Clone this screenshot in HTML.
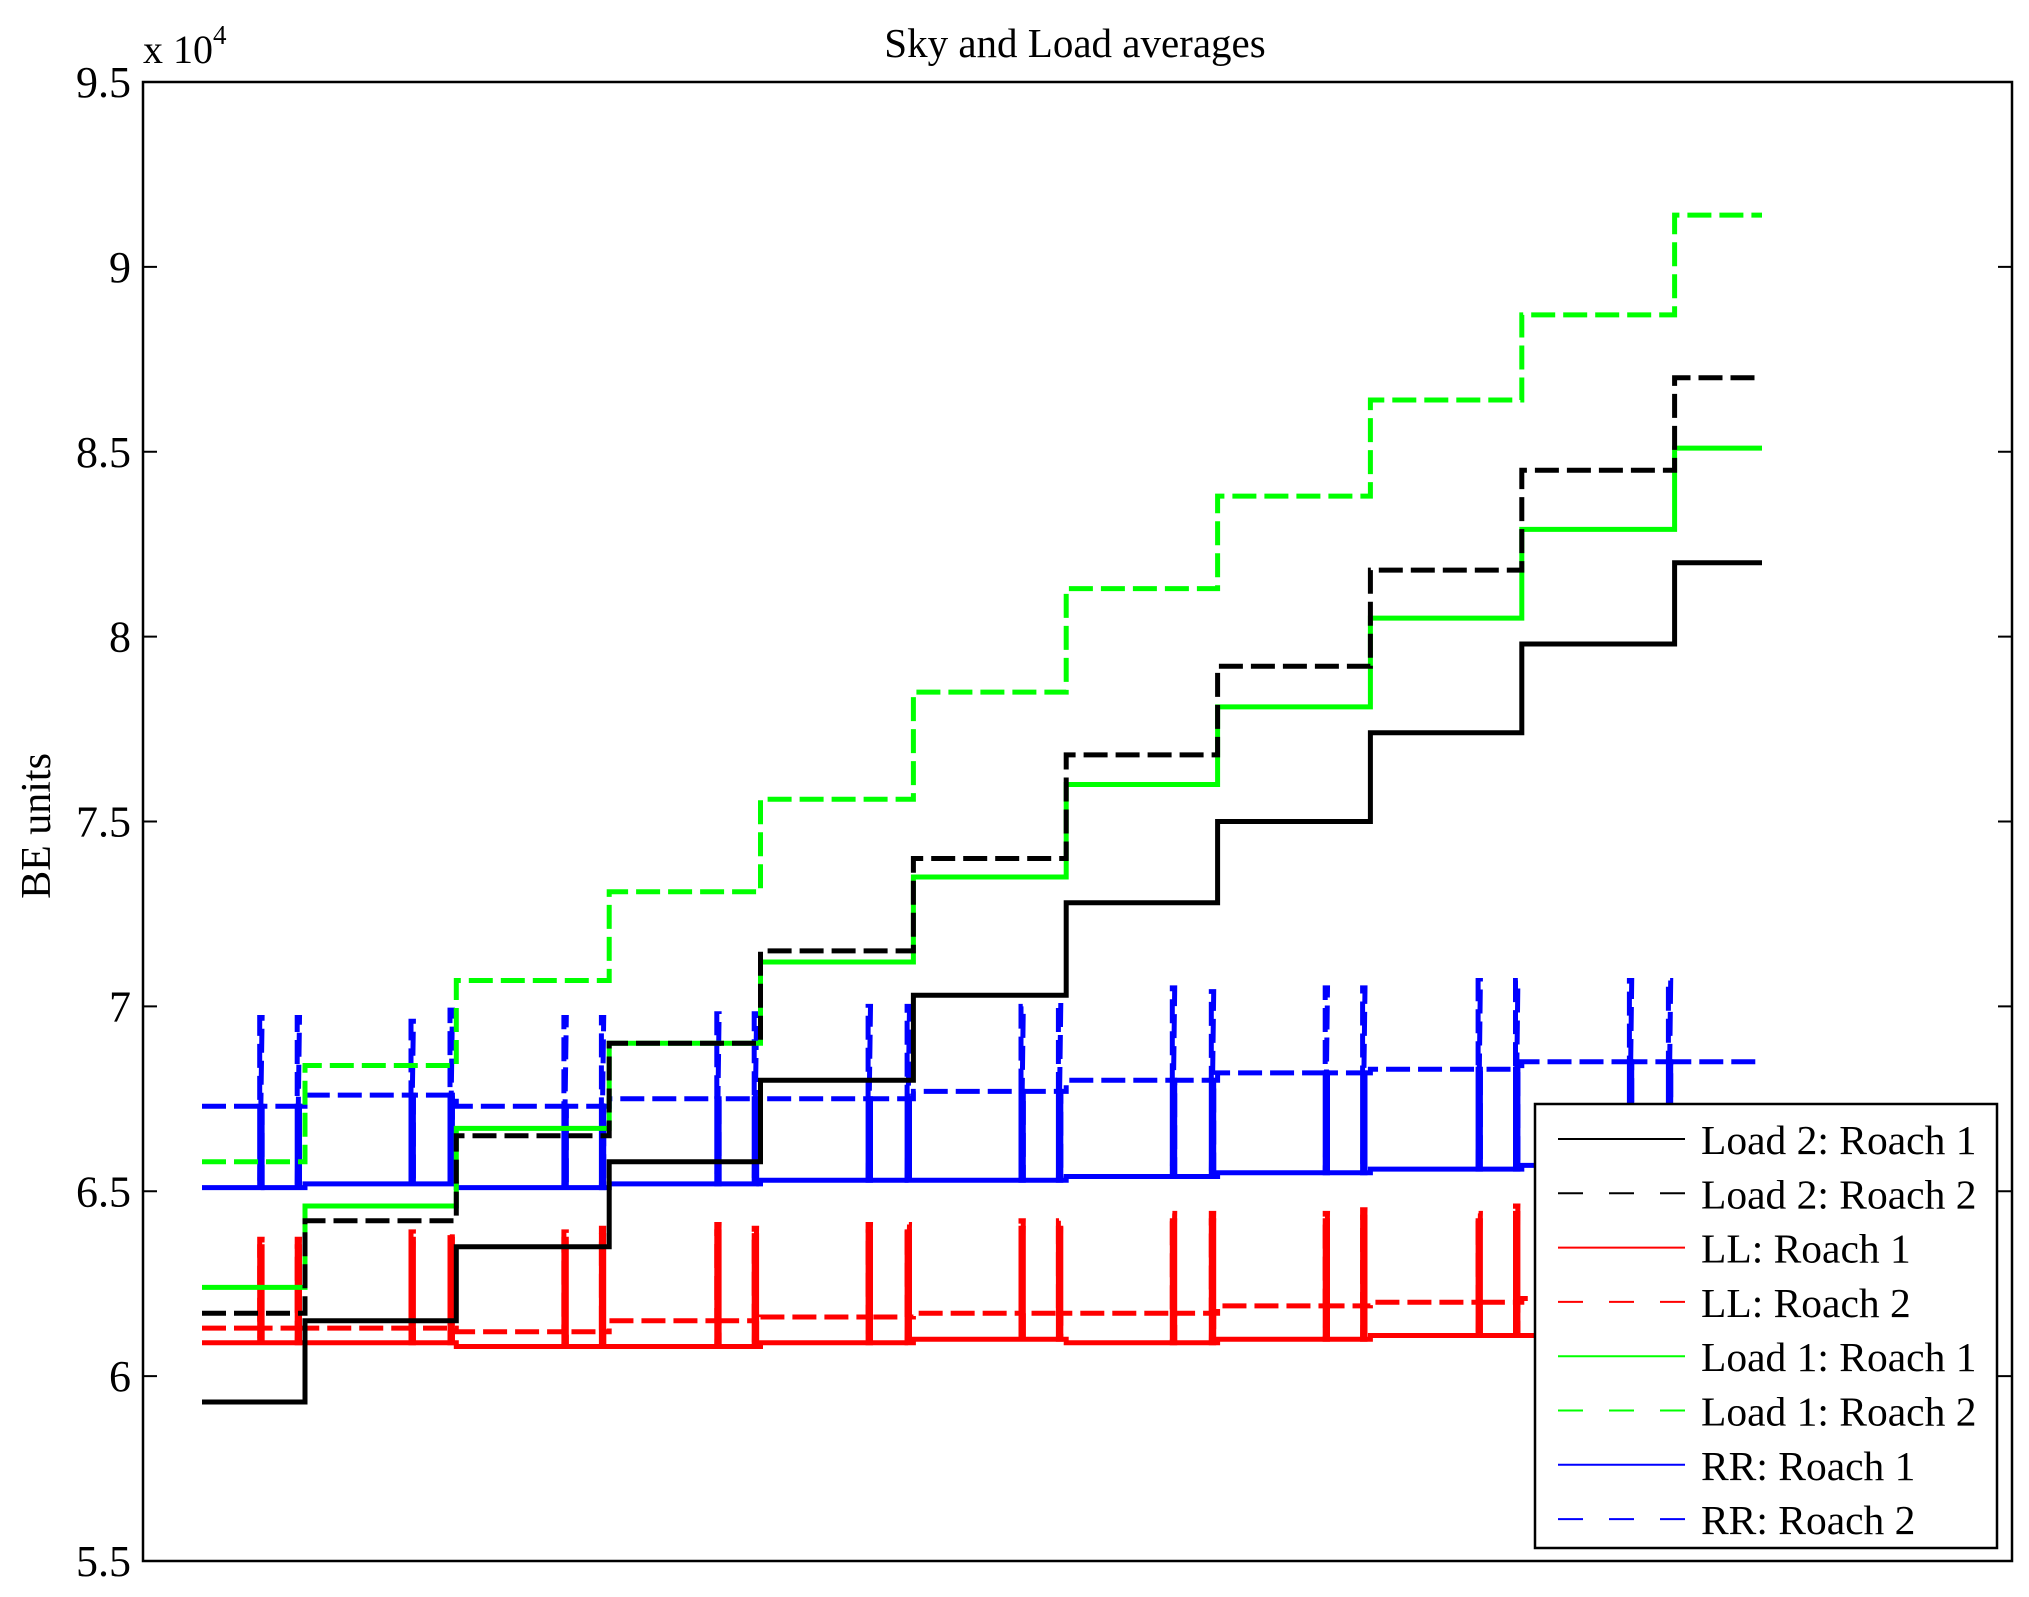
<!DOCTYPE html>
<html><head><meta charset="utf-8"><style>
html,body{margin:0;padding:0;background:#fff}
svg text{font-family:"Liberation Serif",serif;fill:#000}
</style></head><body>
<svg id="chart" width="2029" height="1592" viewBox="0 0 2029 1592" xmlns="http://www.w3.org/2000/svg">
<rect x="0" y="0" width="2029" height="1592" fill="#fff"/>
<text x="1075" y="57" font-size="41" text-anchor="middle">Sky and Load averages</text>
<text transform="translate(50,826) rotate(-90)" font-size="42" text-anchor="middle">BE units</text>
<text x="143" y="63" font-size="40">x 10<tspan font-size="27" dy="-19">4</tspan></text>
<g id="ticks"></g>
<g id="series"></g>
<rect x="143" y="82" width="1869" height="1479" fill="none" stroke="#000" stroke-width="2.5"/>
<g id="legend"></g>
</svg>
<script>
const yTicks = [5.5, 6, 6.5, 7, 7.5, 8, 8.5, 9, 9.5];
const yTickLabels = ["5.5", "6", "6.5", "7", "7.5", "8", "8.5", "9", "9.5"];
const segStarts = [0, 66, 163, 261, 358, 456, 554, 651, 749, 846, 944];
const tEnd = 1000;
const load2r1 = [5.93, 6.15, 6.35, 6.58, 6.80, 7.03, 7.28, 7.50, 7.74, 7.98, 8.20];
const load2r2 = [6.17, 6.42, 6.65, 6.90, 7.15, 7.40, 7.68, 7.92, 8.18, 8.45, 8.70];
const load1r1 = [6.24, 6.46, 6.67, 6.90, 7.12, 7.35, 7.60, 7.81, 8.05, 8.29, 8.51];
const load1r2 = [6.58, 6.84, 7.07, 7.31, 7.56, 7.85, 8.13, 8.38, 8.64, 8.87, 9.14];
const llr1 = [6.09, 6.09, 6.08, 6.08, 6.09, 6.10, 6.09, 6.10, 6.11, 6.11, 6.12];
const llr2 = [6.13, 6.13, 6.12, 6.15, 6.16, 6.17, 6.17, 6.19, 6.20, 6.21, 6.22];
const rrr1 = [6.51, 6.52, 6.51, 6.52, 6.53, 6.53, 6.54, 6.55, 6.56, 6.57, 6.58];
const rrr2 = [6.73, 6.76, 6.73, 6.75, 6.75, 6.77, 6.80, 6.82, 6.83, 6.85, 6.85];
const spikeT = [37, 61, 134, 159, 232, 256, 330, 354, 427, 452, 525, 549, 622, 647, 720, 744, 818, 842, 915, 940];
const redPeak = [6.37, 6.37, 6.39, 6.39, 6.39, 6.40, 6.41, 6.40, 6.41, 6.41, 6.42, 6.42, 6.44, 6.44, 6.44, 6.45, 6.44, 6.46, 6.45, 6.46];
const bluePeak = [6.97, 6.97, 6.96, 6.99, 6.97, 6.97, 6.98, 6.98, 7.00, 7.00, 7.00, 7.01, 7.05, 7.04, 7.05, 7.05, 7.07, 7.07, 7.07, 7.07];

const NS = "http://www.w3.org/2000/svg";
const X0 = 202, X1 = 1762, PT = 82, PB = 1561;
function xs(t){ return X0 + (X1 - X0) * t / tEnd; }
function ys(v){ return PT + (9.5 - v) / 4 * (PB - PT); }

const ticks = document.getElementById('ticks');
yTicks.forEach((v, i) => {
  const y = ys(v);
  for (const [a, b] of [[143, 157], [1998, 2012]]) {
    const l = document.createElementNS(NS, 'line');
    
    
    l.setAttribute('x1', a); l.setAttribute('x2', b); l.setAttribute('y1', y); l.setAttribute('y2', y);
    l.setAttribute('stroke', '#000'); l.setAttribute('stroke-width', '2');
    ticks.appendChild(l);
  }
  const t = document.createElementNS(NS, 'text');
  
  
  t.setAttribute('x', 131); t.setAttribute('y', y + 15);
  t.setAttribute('font-size', '44'); t.setAttribute('text-anchor', 'end');
  t.textContent = yTickLabels[i];
  ticks.appendChild(t);
});

function buildPath(levels, spikeFn){
  const pts = [];
  for (let s = 0; s < segStarts.length; s++) {
    const a = segStarts[s], b = s + 1 < segStarts.length ? segStarts[s + 1] : tEnd;
    const v = levels[s];
    pts.push([a, v]);
    if (spikeFn) {
      spikeT.forEach((st, k) => {
        if (st >= a && st < b) {
          const sp = spikeFn(k, s);
          pts.push([st, v]);
          sp.forEach(val => { pts.push([st, val]); pts.push([st + 1.5, val]); });
          pts.push([st + 1.5, v]);
          pts.push([st + 3, v]);
        }
      });
    }
    pts.push([b, v]);
  }
  return pts.map((p, i) => (i ? 'L' : 'M') + xs(p[0]).toFixed(1) + ',' + ys(p[1]).toFixed(1)).join('');
}
const seriesDefs = [
  {name: 'series-rr-roach-2', lv: rrr2, c: '#0000ff', d: true, sp: (k, s) => [bluePeak[k], rrr1[s]]},
  {name: 'series-rr-roach-1', lv: rrr1, c: '#0000ff', d: false, sp: (k, s) => [rrr2[s]]},
  {name: 'series-ll-roach-2', lv: llr2, c: '#ff0000', d: true, sp: (k, s) => [redPeak[k], llr1[s]]},
  {name: 'series-ll-roach-1', lv: llr1, c: '#ff0000', d: false, sp: (k, s) => [redPeak[k] - 0.02]},
  {name: 'series-load-1-roach-2', lv: load1r2, c: '#00ff00', d: true},
  {name: 'series-load-1-roach-1', lv: load1r1, c: '#00ff00', d: false},
  {name: 'series-load-2-roach-2', lv: load2r2, c: '#000000', d: true},
  {name: 'series-load-2-roach-1', lv: load2r1, c: '#000000', d: false}
];
const sg = document.getElementById('series');
seriesDefs.forEach(sd => {
  const p = document.createElementNS(NS, 'path');
  
  
  p.setAttribute('d', buildPath(sd.lv, sd.sp));
  p.setAttribute('fill', 'none'); p.setAttribute('stroke', sd.c);
  p.setAttribute('stroke-width', '5');
  if (sd.d) p.setAttribute('stroke-dasharray', '24 8');
  sg.appendChild(p);
});

const legendLabels = ["Load 2: Roach 1", "Load 2: Roach 2", "LL: Roach 1", "LL: Roach 2", "Load 1: Roach 1", "Load 1: Roach 2", "RR: Roach 1", "RR: Roach 2"];
const legendColors = ['#000', '#000', '#ff0000', '#ff0000', '#00ff00', '#00ff00', '#0000ff', '#0000ff'];
const lg = document.getElementById('legend');
const box = document.createElementNS(NS, 'rect');


box.setAttribute('x', 1535); box.setAttribute('y', 1104); box.setAttribute('width', 462); box.setAttribute('height', 444);
box.setAttribute('fill', '#fff'); box.setAttribute('stroke', '#000'); box.setAttribute('stroke-width', '2.5');
lg.appendChild(box);
legendLabels.forEach((lab, i) => {
  const y = 1139 + i * 54.3;
  const l = document.createElementNS(NS, 'line');
  
  
  l.setAttribute('x1', 1558); l.setAttribute('x2', 1685); l.setAttribute('y1', y); l.setAttribute('y2', y);
  l.setAttribute('stroke', legendColors[i]); l.setAttribute('stroke-width', '2');
  if (i % 2 === 1) l.setAttribute('stroke-dasharray', '25 26');
  lg.appendChild(l);
  const t = document.createElementNS(NS, 'text');
  
  
  t.setAttribute('x', 1701); t.setAttribute('y', y + 15);
  t.setAttribute('font-size', '41.5');
  t.textContent = lab;
  lg.appendChild(t);
});
</script>
</body></html>
